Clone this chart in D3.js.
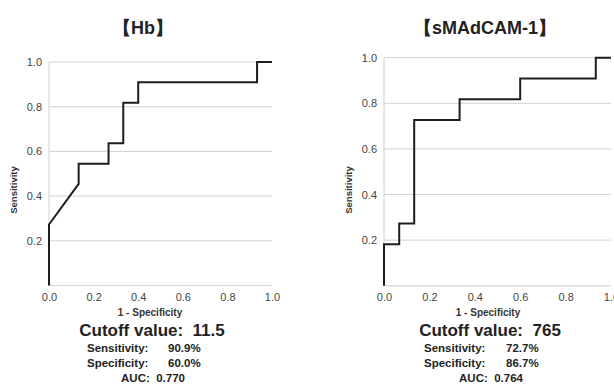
<!DOCTYPE html>
<html>
<head>
<meta charset="utf-8">
<script src="https://cdn.jsdelivr.net/npm/d3@7"></script>
<style>
  body { margin: 0; background: #fff; }
  svg { font-family: Arial, "Liberation Sans", sans-serif; }
  text { white-space: pre; }
</style>
</head>
<body>
<svg id="chart" width="614" height="386"></svg>
<script>
// ROC curves (x = 1 - specificity, y = sensitivity)
const hbFpr  = [0, 0, 0.133, 0.133, 0.267, 0.267, 0.333, 0.333, 0.4, 0.4, 0.933, 0.933, 1];
const hbTpr  = [0, 0.273, 0.455, 0.545, 0.545, 0.636, 0.636, 0.818, 0.818, 0.909, 0.909, 1, 1];
const madFpr = [0, 0, 0.067, 0.067, 0.133, 0.133, 0.333, 0.333, 0.6, 0.6, 0.933, 0.933, 1];
const madTpr = [0, 0.182, 0.182, 0.273, 0.273, 0.727, 0.727, 0.818, 0.818, 0.909, 0.909, 1, 1];

const titles = ['【Hb】', '【sMAdCAM-1】'];
const cutoffs = ['11.5', '765'];
const sensText = ['90.9%', '72.7%'];
const specText = ['60.0%', '86.7%'];
const aucText = ['0.770', '0.764'];

const xTicks = [0, 0.2, 0.4, 0.6, 0.8, 1.0];
const yTicks = [0.2, 0.4, 0.6, 0.8, 1.0];

const svg = d3.select('#chart');

const panels = [
  { fpr: hbFpr, tpr: hbTpr, left: 49, right: 272, top: 62, bottom: 285.5,
    titleX: 143, textX: 150, statX: 87, valX: 168 },
  { fpr: madFpr, tpr: madTpr, left: 384, right: 611, top: 57.7, bottom: 285.7,
    titleX: 485, textX: 488, statX: 424, valX: 506 }
];

panels.forEach((p, i) => {
  const x = d3.scaleLinear().domain([0, 1]).range([p.left, p.right]);
  const y = d3.scaleLinear().domain([0, 1]).range([p.bottom, p.top]);
  const g = svg.append('g');

  // gridlines
  g.selectAll('.grid')
    .data(yTicks)
    .enter()
    .append('line')
    .attr('x1', p.left)
    .attr('x2', p.right)
    .attr('y1', d => y(d))
    .attr('y2', d => y(d))
    .attr('stroke', '#d2d2d2')
    .attr('stroke-width', 1);

  // faint axis lines
  g.append('line')
    .attr('x1', p.left).attr('x2', p.left)
    .attr('y1', p.top).attr('y2', p.bottom)
    .attr('stroke', '#d0d0d0');
  g.append('line')
    .attr('x1', p.left).attr('x2', p.right)
    .attr('y1', p.bottom).attr('y2', p.bottom)
    .attr('stroke', '#dedede')
    .attr('stroke-width', 1.5);

  const yAxis = d3.axisLeft(y).tickValues(yTicks).tickFormat(d3.format('.1f')).tickSize(0).tickPadding(7);
  const xAxis = d3.axisBottom(x).tickValues(xTicks).tickFormat(d3.format('.1f')).tickSize(0).tickPadding(8);

  const ya = g.append('g').attr('transform', `translate(${p.left},0)`).call(yAxis);
  const xa = g.append('g').attr('transform', `translate(0,${p.bottom})`).call(xAxis);
  [ya, xa].forEach(a => {
    a.select('.domain').remove();
    a.selectAll('text')
      .attr('font-size', 11)
      .attr('font-family', 'Arial, "Liberation Sans", sans-serif')
      .attr('fill', '#444');
  });

  // ROC line
  const line = d3.line().x(d => x(d[0])).y(d => y(d[1]));
  g.append('path')
    .datum(d3.zip(p.fpr, p.tpr))
    .attr('fill', 'none')
    .attr('stroke', '#1e1e1e')
    .attr('stroke-width', 2)
    .attr('d', line);

  // titles and labels
  g.append('text')
    .attr('x', p.titleX).attr('y', 34)
    .attr('text-anchor', 'middle')
    .attr('font-size', 18).attr('font-weight', 'bold')
    .attr('fill', '#222')
    .text(titles[i]);

  g.append('text')
    .attr('transform', `translate(${p.left - 32},190) rotate(-90)`)
    .attr('text-anchor', 'middle')
    .attr('font-size', 9.5).attr('font-weight', 'bold')
    .attr('fill', '#333')
    .text('Sensitivity');

  g.append('text')
    .attr('x', p.textX).attr('y', 316)
    .attr('text-anchor', 'middle')
    .attr('font-size', 10).attr('font-weight', 'bold')
    .attr('fill', '#333')
    .text('1 - Specificity');

  g.append('text')
    .attr('x', p.textX + 2).attr('y', 336)
    .attr('text-anchor', 'middle')
    .attr('font-size', 17).attr('font-weight', 'bold')
    .attr('fill', '#222')
    .text('Cutoff value:  ' + cutoffs[i]);

  const stats = [['Sensitivity:', sensText[i], 352], ['Specificity:', specText[i], 367]];
  stats.forEach(s => {
    g.append('text')
      .attr('x', p.statX).attr('y', s[2])
      .attr('font-size', 11.5).attr('font-weight', 'bold')
      .attr('fill', '#222')
      .text(s[0]);
    g.append('text')
      .attr('x', p.valX).attr('y', s[2])
      .attr('font-size', 11.5).attr('font-weight', 'bold')
      .attr('fill', '#222')
      .text(s[1]);
  });

  g.append('text')
    .attr('x', p.textX + 3).attr('y', 382)
    .attr('text-anchor', 'middle')
    .attr('font-size', 11.5).attr('font-weight', 'bold')
    .attr('fill', '#222')
    .text('AUC:  ' + aucText[i]);
});
</script>
</body>
</html>
